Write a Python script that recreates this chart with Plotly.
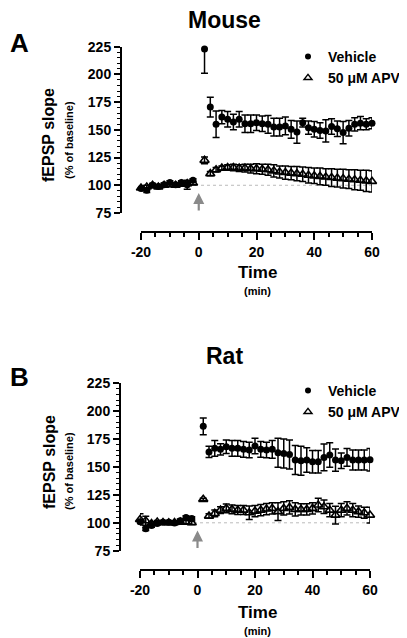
import plotly.graph_objects as go

# ---------------- data ----------------
t_base = [-20, -18, -16, -14, -12, -10, -8, -6, -4, -2]
t_post = list(range(2, 61, 2))

# Mouse (panel A)
mouse_veh_base = [97, 95.5, 100, 99, 100.5, 102.5, 100.5, 102.5, 100.5, 104.5]
mouse_veh_base_err = [2, 2, 1.5, 1.5, 1.5, 1.5, 1.5, 1.5, 4, 1.5]
mouse_veh_post = [223, 170.5, 155, 161.5, 159.5, 157, 159.5, 155.5, 155.5, 156.5,
                  155.5, 155, 152.5, 152.5, 153.5, 150.5, 148, 156.5, 152, 150.5,
                  149.5, 149, 153, 151, 147.5, 151.5, 155, 156, 155, 156]
mouse_veh_post_err = [22, 9, 12, 6, 7, 7, 7, 8, 8, 7,
                      7, 8, 8, 8, 8, 8, 10, 4, 6, 7,
                      7, 10, 7, 7, 10, 7, 6, 6, 5, 5]
mouse_apv_base = [97.5, 98.5, 100, 98.5, 100, 100.5, 100, 101, 101.5, 102]
mouse_apv_base_err = [2, 1.5, 1.5, 1.5, 1.5, 1.5, 1.5, 1.5, 1.5, 1.5]
mouse_apv_post = [122.5, 110.5, 114, 115.5, 116, 116, 115.5, 115.5, 115, 115,
                  114.5, 114, 113, 112, 111.5, 111, 110.5, 110, 109, 108.5,
                  108, 107.5, 107, 106.5, 106, 105.5, 105, 104.5, 104, 103.5]
mouse_apv_post_err = [3, 2, 2, 2, 2.5, 3, 3, 3.5, 4, 4.5,
                      4.5, 5, 5.5, 5.5, 6, 6, 6.5, 6.5, 7, 7,
                      7.5, 7.5, 8, 8, 8.5, 8.5, 9, 9, 9.5, 9.5]

# Rat (panel B)
rat_veh_base = [101, 94.6, 97.6, 99.4, 100.6, 100.6, 99.8, 101.8, 104.8, 103.9]
rat_veh_base_err = [1.5, 1.5, 1.5, 1.5, 1.5, 1.5, 1.5, 1.5, 1.5, 1.5]
rat_veh_post = [186.5, 163.5, 166.7, 165.8, 168.2, 166.7, 166.7, 165.8, 165.2, 168.8,
                165.8, 165.2, 165.8, 162.8, 162.2, 161.3, 156.2, 155.6, 156.2, 154.7,
                154.7, 158.6, 160.7, 156.2, 155.6, 158.6, 156.2, 156.2, 156.2, 156.5]
rat_veh_post_err = [7.5, 5, 7, 5, 6, 7, 7, 7, 7, 7,
                    7, 7, 8, 13, 13, 13, 13, 13, 11, 10,
                    10, 12, 11, 10, 7, 8, 9, 9, 9, 10]
rat_apv_base = [103, 101.8, 99.4, 100.6, 100.3, 100, 100.3, 100.6, 100.6, 100]
rat_apv_base_err = [5, 4, 1.5, 1.5, 1.5, 1.5, 1.5, 1.5, 1.5, 1.5]
rat_apv_post = [121, 106, 108.4, 111.4, 112.9, 112, 111.4, 111.4, 109, 110.5,
                111.4, 112.3, 112.9, 110, 112.9, 113.8, 112, 112, 112, 112.9,
                115.9, 114.4, 111.4, 106.9, 111.4, 112.9, 111.4, 110, 109, 106.9]
rat_apv_post_err = [1, 2, 3, 3, 4, 4, 4, 4, 6, 5,
                    5, 5, 5, 8, 6, 6, 6, 5, 5, 5,
                    6, 6, 6, 8, 6, 6, 6, 5, 5, 7]

y_ticks = [75, 100, 125, 150, 175, 200, 225]
x_ticks = [-20, 0, 20, 40, 60]
x_tick_labels = ["-20", "0", "20", "40", "60"]
series_names = ["Vehicle", "50 \u03bcM APV"]

# page body has an 8px default margin; the figure is laid out in screen pixels
OFF = 8
FW, FH = 399, 630
FONT = "Liberation Sans, Arial, sans-serif"

fig = go.Figure()

def px_x(s):
    return (s - OFF) / FW

def px_y(s):
    return 1 - (s - OFF) / FH

panels = [
    dict(name="Mouse", letter="A",
         veh=(mouse_veh_base + mouse_veh_post, mouse_veh_base_err + mouse_veh_post_err),
         apv=(mouse_apv_base + mouse_apv_post, mouse_apv_base_err + mouse_apv_post_err),
         xdom=(141, 372), ytop=46.7, ybot=213, xaxis_px=232, yaxis_px=121,
         title_y=20, letter_y=43, ylab_y=135, ylab2_y=140, time_y=272, min_y=291,
         legend_top=41),
    dict(name="Rat", letter="B",
         veh=(rat_veh_base + rat_veh_post, rat_veh_base_err + rat_veh_post_err),
         apv=(rat_apv_base + rat_apv_post, rat_apv_base_err + rat_apv_post_err),
         xdom=(140, 370), ytop=383.3, ybot=550.7, xaxis_px=570, yaxis_px=120,
         title_y=356, letter_y=377, ylab_y=462, ylab2_y=471, time_y=612, min_y=631,
         legend_top=375),
]

t_all = t_base + t_post
annotations = []
shapes = []
for i, p in enumerate(panels):
    n = "" if i == 0 else str(i + 1)
    xa = "x" + n
    ya = "y" + n
    veh_y, veh_e = p["veh"]
    apv_y, apv_e = p["apv"]
    legend_name = "legend" if i == 0 else "legend2"
    fig.add_trace(go.Scatter(
        x=t_all, y=veh_y, mode="markers", xaxis=xa, yaxis=ya,
        marker=dict(symbol="circle", size=7, color="black"),
        error_y=dict(type="data", array=veh_e, color="black", thickness=1.5, width=3.5),
        showlegend=False, cliponaxis=False))
    fig.add_trace(go.Scatter(
        x=t_all, y=apv_y, mode="markers", xaxis=xa, yaxis=ya,
        marker=dict(symbol="triangle-up-open", size=8, color="black", line=dict(width=1.6)),
        error_y=dict(type="data", array=apv_e, color="black", thickness=1.5, width=3.5),
        showlegend=False, cliponaxis=False))
    # legend-only entries
    fig.add_trace(go.Scatter(
        x=[None], y=[None], mode="markers", xaxis=xa, yaxis=ya, name=series_names[0],
        marker=dict(symbol="circle", size=6, color="black"), legend=legend_name))
    fig.add_trace(go.Scatter(
        x=[None], y=[None], mode="markers", xaxis=xa, yaxis=ya, name=series_names[1],
        marker=dict(symbol="triangle-up-open", size=7, color="black", line=dict(width=1.4)),
        legend=legend_name))

    axis_common = dict(showline=True, linecolor="black", linewidth=2, ticks="outside",
                       tickcolor="black", tickwidth=1.5, showgrid=False, zeroline=False,
                       tickfont=dict(family=FONT, size=14, color="black", weight="bold"))
    xkey = "xaxis" + n
    ykey = "yaxis" + n
    fig.update_layout(**{
        xkey: dict(domain=[px_x(p["xdom"][0]), px_x(p["xdom"][1])], range=[-20, 60],
                   anchor="free", position=px_y(p["xaxis_px"]), tickvals=x_ticks,
                   ticktext=x_tick_labels,
                   ticklen=7, minor=dict(dtick=5, tick0=0, ticks="outside", ticklen=4,
                                         tickwidth=1.5, tickcolor="black"),
                   **axis_common),
        ykey: dict(domain=[px_y(p["ybot"]), px_y(p["ytop"])], range=[75, 225],
                   anchor="free", position=px_x(p["yaxis_px"]), tickvals=y_ticks,
                   ticklen=6, minor=dict(dtick=5, tick0=0, ticks="outside", ticklen=3,
                                         tickwidth=1, tickcolor="black"),
                   **axis_common),
    })
    # baseline dotted line
    shapes.append(dict(type="line", xref=xa, yref=ya, x0=-20, x1=60, y0=100, y1=100,
                       line=dict(color="#bbbbbb", width=1, dash="dot"), layer="below"))
    # arrow at t=0
    annotations.append(dict(x=0, y=93, xref=xa, yref=ya, ax=0, ay=76, axref=xa, ayref=ya,
                            showarrow=True, arrowhead=2, arrowsize=1, arrowwidth=2.2,
                            arrowcolor="#8a8a8a", text=""))
    # panel title
    annotations.append(dict(text="<b>%s</b>" % p["name"], x=px_x(224), y=px_y(p["title_y"]),
                            xref="paper", yref="paper", showarrow=False,
                            font=dict(family=FONT, size=23, color="black"),
                            xanchor="center", yanchor="middle"))
    annotations.append(dict(text="<b>%s</b>" % p["letter"], x=px_x(19), y=px_y(p["letter_y"]),
                            xref="paper", yref="paper", showarrow=False,
                            font=dict(family=FONT, size=26, color="black"),
                            xanchor="center", yanchor="middle"))
    annotations.append(dict(text="<b>fEPSP slope</b>", x=px_x(49), y=px_y(p["ylab_y"]),
                            xref="paper", yref="paper", showarrow=False, textangle=-90,
                            font=dict(family=FONT, size=16, color="black"),
                            xanchor="center", yanchor="middle"))
    annotations.append(dict(text="<b>(% of baseline)</b>", x=px_x(69), y=px_y(p["ylab2_y"]),
                            xref="paper", yref="paper", showarrow=False, textangle=-90,
                            font=dict(family=FONT, size=11, color="black"),
                            xanchor="center", yanchor="middle"))
    annotations.append(dict(text="<b>Time</b>", x=px_x(257), y=px_y(p["time_y"]),
                            xref="paper", yref="paper", showarrow=False,
                            font=dict(family=FONT, size=17, color="black"),
                            xanchor="center", yanchor="middle"))
    annotations.append(dict(text="<b>(min)</b>", x=px_x(257), y=px_y(p["min_y"]),
                            xref="paper", yref="paper", showarrow=False,
                            font=dict(family=FONT, size=11, color="black"),
                            xanchor="center", yanchor="middle"))

legend_common = dict(xanchor="left", yanchor="top", bgcolor="rgba(0,0,0,0)",
                     font=dict(family=FONT, size=14, color="black", weight="bold"),
                     tracegroupgap=0, itemsizing="trace")
fig.update_layout(
    width=FW, height=FH, margin=dict(l=0, r=0, t=0, b=0, autoexpand=False),
    paper_bgcolor="white", plot_bgcolor="white",
    annotations=annotations, shapes=shapes,
    legend=dict(x=px_x(288), y=px_y(panels[0]["legend_top"]), **legend_common),
    legend2=dict(x=px_x(288), y=px_y(panels[1]["legend_top"]), **legend_common),
)

fig.write_html("out.html")
